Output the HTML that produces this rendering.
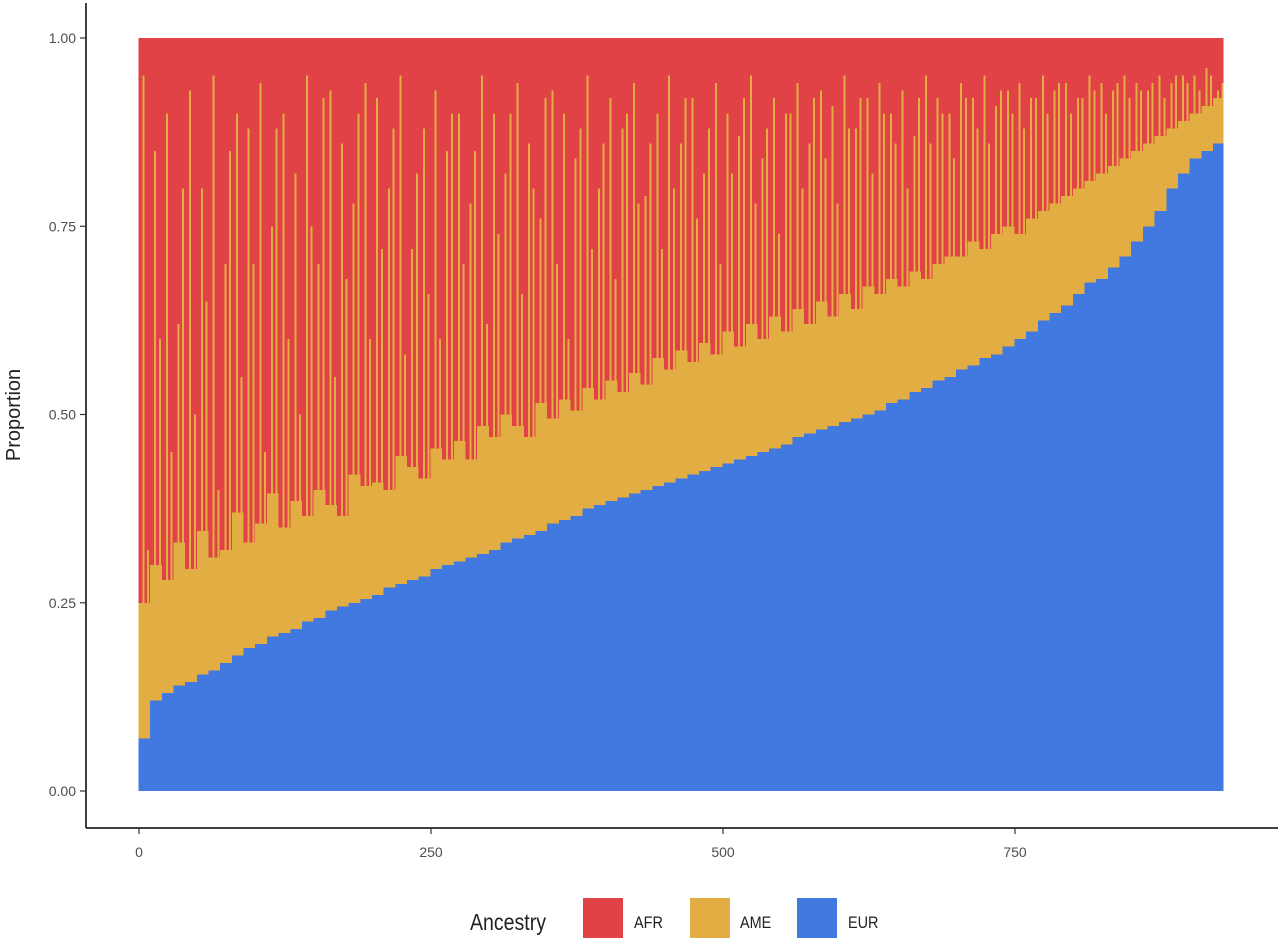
<!DOCTYPE html>
<html><head><meta charset="utf-8"><style>
body{margin:0;background:#fff;font-family:"Liberation Sans",sans-serif}
svg text{font-family:"Liberation Sans",sans-serif}
</style></head><body>
<svg id="chart" width="1280" height="941" xmlns="http://www.w3.org/2000/svg">
<g id="bars" shape-rendering="crispEdges"></g>
<g id="axes"></g>
<g>
<text x="470" y="930" font-size="23" fill="#222" transform="translate(470 0) scale(0.85 1) translate(-470 0)">Ancestry</text>
<rect x="583" y="898" width="40" height="40" fill="#E04245"/>
<text x="634" y="928" font-size="17" fill="#222" transform="translate(634 0) scale(0.85 1) translate(-634 0)">AFR</text>
<rect x="690" y="898" width="40" height="40" fill="#E2AD42"/>
<text x="740" y="928" font-size="17" fill="#222" transform="translate(740 0) scale(0.85 1) translate(-740 0)">AME</text>
<rect x="797" y="898" width="40" height="40" fill="#4279E0"/>
<text x="848" y="928" font-size="17" fill="#222" transform="translate(848 0) scale(0.85 1) translate(-848 0)">EUR</text>
</g>
</svg>
<script>
const groupStart=[0,10,20,30,40,50,60,70,80,90,100,110,120,130,140,150,160,170,180,190,200,210,220,230,240,250,260,270,280,290,300,310,320,330,340,350,360,370,380,390,400,410,420,430,440,450,460,470,480,490,500,510,520,530,540,550,560,570,580,590,600,610,620,630,640,650,660,670,680,690,700,710,720,730,740,750,760,770,780,790,800,810,820,830,840,850,860,870,880,890,900,910,920];
const eur=[.07,.12,.13,.14,.145,.155,.16,.17,.18,.19,.195,.205,.21,.215,.225,.23,.24,.245,.25,.255,.26,.27,.275,.28,.285,.295,.3,.305,.31,.315,.32,.33,.335,.34,.345,.355,.36,.365,.375,.38,.385,.39,.395,.4,.405,.41,.415,.42,.425,.43,.435,.44,.445,.45,.455,.46,.47,.475,.48,.485,.49,.495,.5,.505,.515,.52,.53,.535,.545,.55,.56,.565,.575,.58,.59,.6,.61,.625,.635,.645,.66,.675,.68,.695,.71,.73,.75,.77,.8,.82,.84,.85,.86];
const ame=[.18,.18,.15,.19,.15,.19,.15,.15,.19,.14,.16,.19,.14,.17,.14,.17,.14,.12,.17,.15,.15,.13,.17,.15,.13,.16,.14,.16,.13,.17,.15,.17,.15,.13,.17,.14,.16,.14,.16,.14,.16,.14,.16,.14,.17,.15,.17,.15,.17,.15,.175,.15,.175,.15,.175,.15,.17,.145,.17,.145,.17,.145,.17,.155,.165,.15,.16,.145,.155,.16,.15,.165,.145,.16,.16,.14,.15,.145,.145,.145,.14,.135,.14,.135,.13,.12,.11,.10,.08,.07,.06,.06,.06];
const spikeTop=[.95,.85,.9,.62,.93,.8,.95,.7,.9,.88,.94,.75,.9,.82,.95,.7,.93,.86,.78,.94,.92,.8,.95,.72,.88,.93,.85,.9,.78,.95,.9,.82,.94,.86,.76,.93,.9,.84,.95,.8,.92,.88,.94,.79,.9,.95,.86,.92,.82,.94,.9,.87,.95,.84,.92,.9,.94,.86,.93,.91,.95,.88,.92,.94,.9,.93,.87,.95,.92,.9,.94,.92,.95,.91,.93,.94,.92,.95,.93,.94,.92,.95,.94,.93,.95,.94,.93,.95,.94,.95,.95,.96,.93];
const spikeTop2=[.32,.6,.45,.8,.5,.65,.4,.85,.55,.7,.45,.88,.6,.5,.75,.92,.55,.68,.9,.6,.72,.88,.58,.82,.66,.6,.9,.7,.85,.62,.74,.9,.66,.8,.92,.7,.6,.88,.72,.86,.68,.9,.78,.86,.72,.8,.92,.76,.88,.7,.82,.92,.78,.88,.74,.9,.8,.92,.84,.78,.88,.92,.82,.9,.86,.8,.92,.86,.9,.84,.92,.88,.86,.93,.9,.88,.92,.9,.94,.9,.92,.93,.9,.94,.92,.93,.94,.92,.95,.94,.93,.95,.94];
const xTicks=[0,250,500,750];
const yTicks=[0,0.25,0.5,0.75,1];
const yTickLabels=["0.00","0.25","0.50","0.75","1.00"];
const NS="http://www.w3.org/2000/svg";
const x=v=>139+v*(1015-139)/750;
const y=v=>791-v*(791-38);
const bars=document.getElementById('bars'),axes=document.getElementById('axes');
function mk(p,tag,attrs){const e=document.createElementNS(NS,tag);for(const k in attrs)e.setAttribute(k,attrs[k]);p.appendChild(e);return e;}
groupStart.forEach((s,i)=>{
  const x0=x(s-0.5),x1=x(Math.min(s+9.5,928)),w=x1-x0+0.6;
  const r1=mk(bars,'rect',{x:x0,y:y(1),width:w,height:y(0)-y(1),fill:'#E04245'});
  
  
  const top=eur[i]+ame[i];
  const r2=mk(bars,'rect',{x:x0,y:y(top),width:w,height:y(eur[i])-y(top),fill:'#E2AD42'});
  
  
  const sp=mk(bars,'rect',{x:x(s+3),y:y(spikeTop[i]),width:2,height:Math.max(0,y(top)-y(spikeTop[i])),fill:'#E2AD42'});
  
  
  const sp2=mk(bars,'rect',{x:x(s+7),y:y(spikeTop2[i]),width:2,height:Math.max(0,y(top)-y(spikeTop2[i])),fill:'#E2AD42'});
  
  
  const r3=mk(bars,'rect',{x:x0,y:y(eur[i]),width:w,height:y(0)-y(eur[i]),fill:'#4279E0'});
  
  
});
const ly=mk(axes,'line',{x1:86,y1:3,x2:86,y2:828,stroke:'#000','stroke-width':1.5});


const lx=mk(axes,'line',{x1:86,y1:828,x2:1278,y2:828,stroke:'#000','stroke-width':1.5});


yTicks.forEach((t,i)=>{
  mk(axes,'line',{x1:80,x2:86,y1:y(t),y2:y(t),stroke:'#333','stroke-width':1.2});
  const tx=mk(axes,'text',{x:76,y:y(t)+5,'text-anchor':'end','font-size':14,fill:'#4d4d4d'});
  tx.textContent=yTickLabels[i];
  
  
});
xTicks.forEach(t=>{
  mk(axes,'line',{x1:x(t),x2:x(t),y1:828,y2:834,stroke:'#333','stroke-width':1.2});
  const tx=mk(axes,'text',{x:x(t),y:857,'text-anchor':'middle','font-size':14,fill:'#4d4d4d'});
  tx.textContent=t;
  
  
});
const yt=mk(axes,'text',{x:0,y:0,'font-size':20,fill:'#222','text-anchor':'middle',transform:'translate(20 415) rotate(-90)'});
yt.textContent='Proportion';


</script>
</body></html>
